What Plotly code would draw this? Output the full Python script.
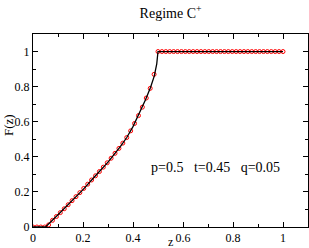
import plotly.graph_objects as go

# Red circles: z = k/64
z_pts = [k / 64 for k in range(65)]
F_pts = [0, 0, 0, 0, 0.012, 0.038, 0.060, 0.082, 0.104, 0.127, 0.150, 0.173, 0.196,
         0.220, 0.244, 0.268, 0.292, 0.316, 0.341, 0.366, 0.392, 0.420, 0.448, 0.478,
         0.510, 0.548, 0.590, 0.635, 0.683, 0.735, 0.790, 0.870, 1.0] + [1.0] * 32

# Black curve
z_line = [0, 0.05, 0.1, 0.15, 0.2, 0.25, 0.3, 0.35, 0.375, 0.4, 0.425, 0.45,
          0.47, 0.485, 0.495, 0.5, 1.0]
F_line = [0, 0, 0.07, 0.14, 0.213, 0.292, 0.37, 0.46, 0.51, 0.572, 0.645, 0.725,
          0.795, 0.86, 0.93, 1.0, 1.0]

tick_vals = [0, 0.2, 0.4, 0.6, 0.8, 1.0]
tick_text = ["0", "0.2", "0.4", "0.6", "0.8", "1"]

SERIF = "'Liberation Serif', 'Times New Roman', serif"

fig = go.Figure()
fig.add_trace(go.Scatter(x=z_pts, y=F_pts, mode="markers",
                         marker=dict(symbol="circle-open", size=4, color="#ff0000",
                                     line=dict(width=1, color="#ff0000")),
                         showlegend=False))
fig.add_trace(go.Scatter(x=z_line, y=F_line, mode="lines",
                         line=dict(color="black", width=1.3), showlegend=False))

axis_common = dict(showgrid=False, zeroline=False, showline=True, linecolor="black",
                   linewidth=1, mirror="allticks", ticks="inside", ticklen=5,
                   tickcolor="black", tickwidth=1, automargin=False,
                   tickfont=dict(family=SERIF, size=12, color="black"),
                   minor=dict(ticks="inside", ticklen=3, dtick=0.1, tickcolor="black"))

fig.update_xaxes(range=[0, 1.1], tickvals=tick_vals, ticktext=tick_text, **axis_common)
fig.update_yaxes(range=[0, 1.1], tickvals=tick_vals, ticktext=tick_text, **axis_common)

fig.add_annotation(text="z", x=0.5, y=-0.08, xref="paper", yref="paper",
                   xanchor="center", yanchor="middle", showarrow=False,
                   font=dict(family=SERIF, size=12, color="black"))
fig.add_annotation(text="F(z)", x=-0.09, y=0.53, xref="paper", yref="paper",
                   xanchor="center", yanchor="middle", showarrow=False, textangle=-90,
                   font=dict(family=SERIF, size=13, color="black"))
fig.add_annotation(text="p=0.5   t=0.45   q=0.05", x=0.996, y=0.34, xref="x", yref="y",
                   xanchor="right", yanchor="middle", showarrow=False,
                   font=dict(family=SERIF, size=14, color="black"))

fig.update_layout(
    width=309, height=248,
    margin=dict(l=33, r=1, t=34, b=21),
    paper_bgcolor="white", plot_bgcolor="white",
    title=dict(text="Regime C<sup>+</sup>", x=0.552, xanchor="center", y=0.948, yanchor="middle",
               font=dict(family=SERIF, size=14, color="black")),
)

fig.write_html("out.html", config={"displayModeBar": False},
               post_script="document.body.style.margin='0';")
